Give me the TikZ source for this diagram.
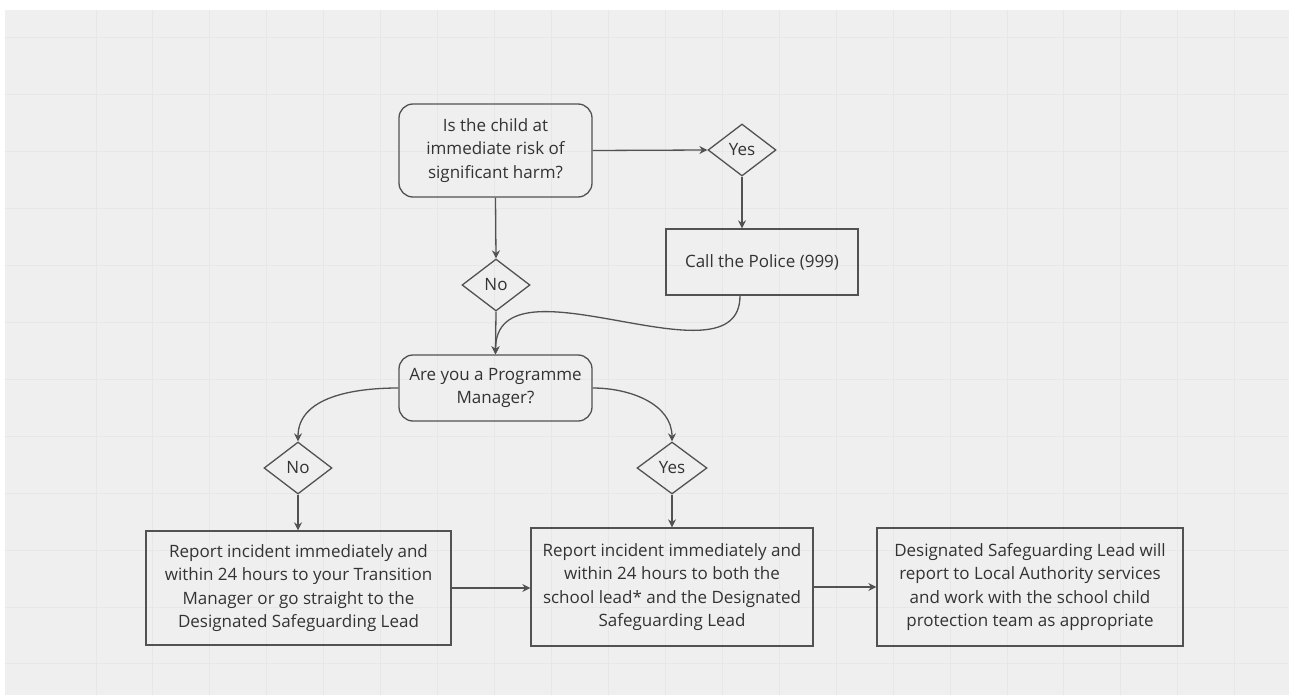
\documentclass[tikz,border=0pt]{standalone}
\usepackage{fontspec}
\setmainfont{Open Sans}
\usetikzlibrary{shapes.geometric,arrows.meta}
\definecolor{bg}{HTML}{EFEFEF}
\definecolor{gridc}{HTML}{E7E7E7}
\definecolor{linec}{HTML}{525252}
\definecolor{txt}{HTML}{333333}
\begin{document}
\begin{tikzpicture}[x=1pt,y=1pt,
  every node/.style={font=\fontsize{17}{23.3}\selectfont, text=txt},
  box/.style={draw=linec,line width=1.3pt,align=center,inner sep=0pt},
  rbox/.style={box,rounded corners=14pt},
  dia/.style={draw=linec,line width=1.3pt,diamond,inner sep=0pt,minimum width=68pt,minimum height=52pt},
  arr/.style={draw=linec,line width=1.3pt,-{Stealth[length=8pt,width=8pt]}}]
% background
\useasboundingbox (0,0) rectangle (1289,-695);
\fill[white] (0,0) rectangle (1289,-695);
\fill[bg] (5,-10) rectangle (1289,-695);
\foreach \i in {0,...,20} \draw[gridc,line width=1pt] ({96+56.94*\i},-10) -- ({96+56.94*\i},-695);
\foreach \j in {0,...,11} \draw[gridc,line width=1pt] (5,{-38-56.9*\j}) -- (1289,{-38-56.9*\j});
% nodes
\node[rbox,minimum width=193pt,minimum height=93pt] (q1) at (495.5,-150.5) {Is the child at\\immediate risk of\\significant harm?};
\node[dia] (yes1) at (742,-150) {Yes};
\node[box,minimum width=192pt,minimum height=66pt] (police) at (762,-262) {Call the Police (999)};
\node[dia] (no1) at (496,-285) {No};
\node[rbox,minimum width=193pt,minimum height=66pt] (q2) at (495.5,-388) {Are you a Programme\\Manager?};
\node[dia] (no2) at (298,-468) {No};
\node[dia,minimum width=70pt] (yes2) at (672,-468) {Yes};
\node[box,minimum width=305pt,minimum height=114pt] (r1) at (298.5,-588) {Report incident immediately and\\within 24 hours to your Transition\\Manager or go straight to the\\Designated Safeguarding Lead};
\node[box,minimum width=282pt,minimum height=118pt] (r2) at (672,-587) {Report incident immediately and\\within 24 hours to both the\\school lead* and the Designated\\Safeguarding Lead};
\node[box,minimum width=306pt,minimum height=118pt] (r3) at (1030,-587) {Designated Safeguarding Lead will\\report to Local Authority services\\and work with the school child\\protection team as appropriate};
% connectors
\coordinate (pstart) at ([xshift=-22pt]police.south);
\draw[arr] (q1.east) -- (yes1.west);
\draw[arr] (yes1.south) -- (yes1.south |- police.north);
\draw[arr] (q1.south) -- (no1.north);
\draw[arr] (no1.south) -- (q2.north);
\draw[arr] (pstart) .. controls +(0,-95) and +(0,105) .. (q2.north);
\draw[arr] (q2.west) to[out=180,in=90] (no2.north);
\draw[arr] (q2.east) to[out=0,in=90] (yes2.north);
\draw[arr] (no2.south) -- (no2.south |- r1.north);
\draw[arr] (yes2.south) -- (yes2.south |- r2.north);
\draw[arr] (r1.east) -- (r1.east -| r2.west);
\draw[arr] (r2.east) -- (r3.west);
\end{tikzpicture}
\end{document}
